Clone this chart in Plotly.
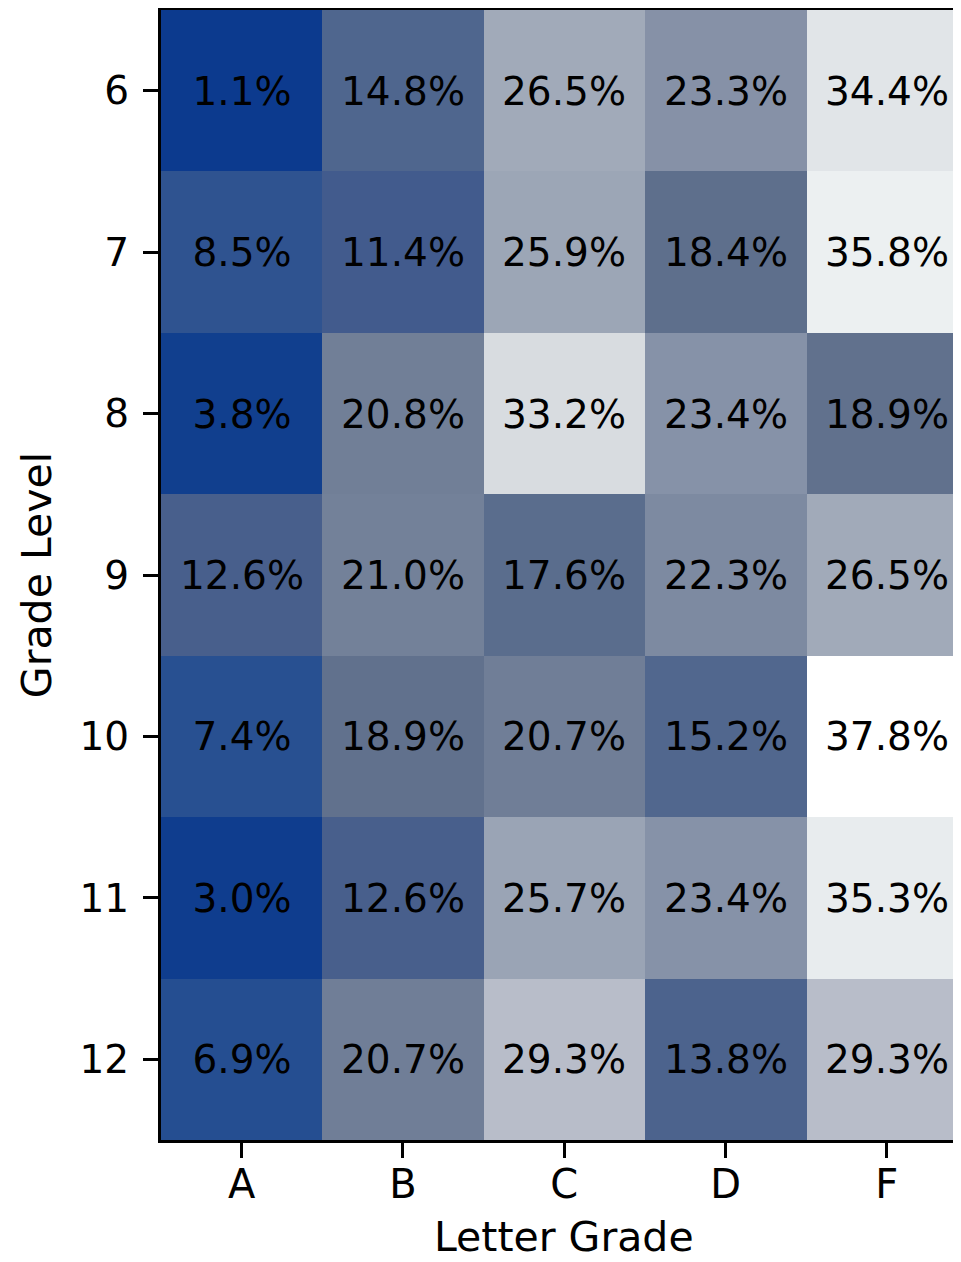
import plotly.graph_objects as go

# grade distribution per grade level (percent of students)
letters = ["A", "B", "C", "D", "F"]
levels = ["6", "7", "8", "9", "10", "11", "12"]

pct_6 = [1.1, 14.8, 26.5, 23.3, 34.4]
pct_7 = [8.5, 11.4, 25.9, 18.4, 35.8]
pct_8 = [3.8, 20.8, 33.2, 23.4, 18.9]
pct_9 = [12.6, 21.0, 17.6, 22.3, 26.5]
pct_10 = [7.4, 18.9, 20.7, 15.2, 37.8]
pct_11 = [3.0, 12.6, 25.7, 23.4, 35.3]
pct_12 = [6.9, 20.7, 29.3, 13.8, 29.3]

z = [pct_6, pct_7, pct_8, pct_9, pct_10, pct_11, pct_12]

FONT = "DejaVu Sans"

colorscale = [
    [0.0, "rgb(12,58,142)"],
    [0.07, "rgb(16,62,142)"],
    [0.17, "rgb(40,80,145)"],
    [0.30, "rgb(70,93,140)"],
    [0.38, "rgb(80,103,142)"],
    [0.48, "rgb(95,112,140)"],
    [0.54, "rgb(114,128,152)"],
    [0.60, "rgb(132,144,166)"],
    [0.69, "rgb(160,170,185)"],
    [0.77, "rgb(185,189,201)"],
    [0.875, "rgb(216,220,224)"],
    [0.94, "rgb(234,238,240)"],
    [1.0, "rgb(255,255,255)"],
]

fig = go.Figure()
fig.add_trace(
    go.Heatmap(
        x=list(range(len(letters))),
        y=list(range(len(levels))),
        z=z,
        zmin=min(min(r) for r in z),
        zmax=max(max(r) for r in z),
        colorscale=colorscale,
        showscale=False,
        texttemplate="%{z:.1f}%",
        textfont=dict(family=FONT, size=39, color="black"),
        hoverinfo="skip",
    )
)

# page body has an 8px default margin, so the figure is sized to fit inside it
fig.update_layout(
    width=945,
    height=1246,
    margin=dict(l=153, r=0, t=2, b=114),
    paper_bgcolor="white",
    plot_bgcolor="white",
    font=dict(family=FONT, size=40, color="black"),
    showlegend=False,
)
# x title as annotation so it centres on the full (cropped) axis, like the original
fig.add_annotation(
    text="Letter Grade",
    x=2, xref="x",
    y=0, yref="paper",
    yanchor="middle",
    yshift=-97,
    showarrow=False,
    font=dict(family=FONT, size=41, color="black"),
)
fig.update_xaxes(
    tickvals=list(range(len(letters))),
    ticktext=letters,
    range=[-0.5, 4.41],
    showgrid=False,
    zeroline=False,
    showline=True,
    mirror=True,
    linecolor="black",
    linewidth=3,
    ticks="outside",
    ticklen=15,
    tickwidth=3,
    tickcolor="black",
    ticklabelstandoff=-8,
    tickfont=dict(size=40),
)
fig.update_yaxes(
    tickvals=list(range(len(levels))),
    ticktext=levels,
    range=[6.5, -0.5],
    showgrid=False,
    zeroline=False,
    showline=True,
    mirror=False,
    linecolor="black",
    linewidth=3,
    ticks="outside",
    ticklen=15,
    tickwidth=3,
    tickcolor="black",
    ticklabelstandoff=6,
    tickfont=dict(size=39),
    title=dict(text="Grade Level", font=dict(size=41), standoff=16),
)

fig.write_html("out.html")
